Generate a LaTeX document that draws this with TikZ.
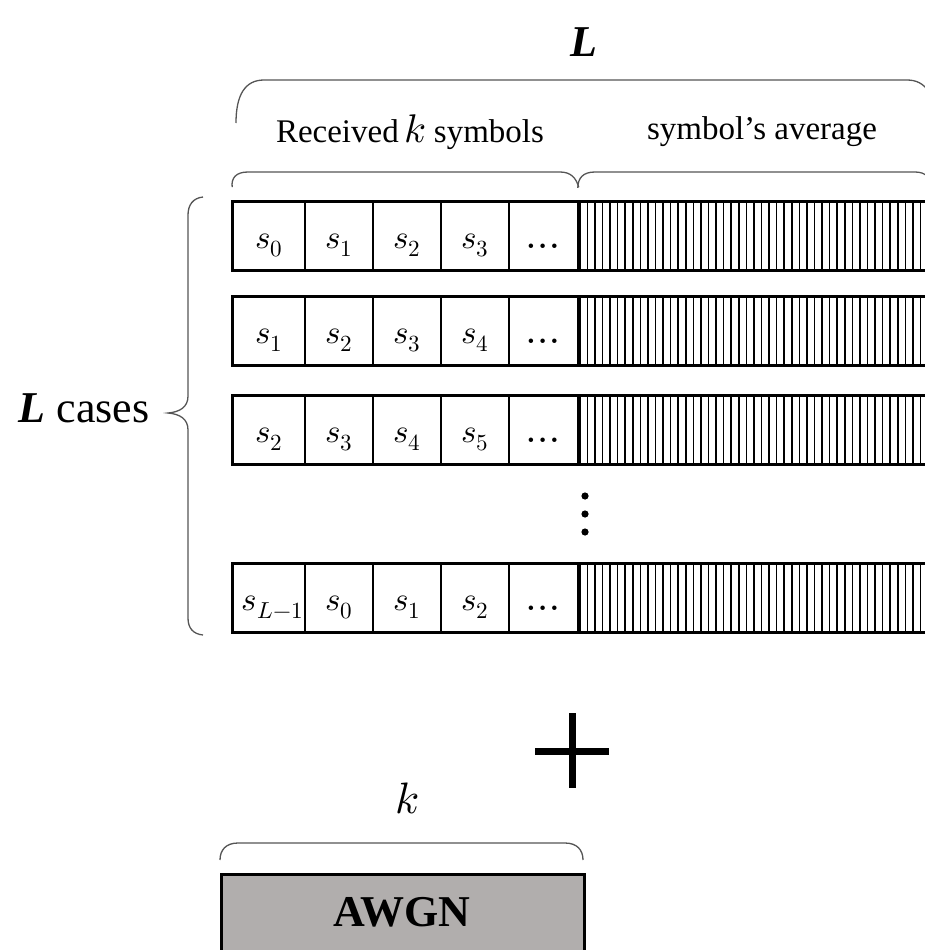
\documentclass[tikz,border=0pt]{standalone}
\usepackage{fontspec}
\usepackage{unicode-math}
\setmainfont{Liberation Serif}
\setmathfont{Latin Modern Math}
\definecolor{awgngray}{RGB}{177,174,173}
\definecolor{bracegray}{RGB}{85,85,85}
\begin{document}
\begin{tikzpicture}[x=1pt,y=-1pt,
  cell/.style={draw, line width=1.6pt, minimum width=#1, minimum height=68pt, inner sep=0pt,
    text height=30pt, text depth=6pt, font=\fontsize{33}{33}\selectfont},
  hatchbox/.style={minimum width=352pt, minimum height=68pt, inner sep=0pt},
  rowframe/.style={line width=2.6pt},
  bracepath/.style={draw=bracegray, line width=1.3pt},
  hatchline/.style={line width=1.6pt},
  biglabel/.style={font=\fontsize{44}{44}\selectfont},
  midlabel/.style={font=\fontsize{33}{33}\selectfont}]
\clip (0,0) rectangle (925,950);
\useasboundingbox (0,0) rectangle (925,950);

% rows
\foreach \r/\yc/\a/\b/\c/\d in {1/236/s_0/s_1/s_2/s_3, 2/331.5/s_1/s_2/s_3/s_4, 3/430.5/s_2/s_3/s_4/s_5, 5/598/\kern7pt s_{L-1}/s_0/s_1/s_2}{
  \node[cell=72pt] (r\r c1) at (269,\yc) {$\a$};
  \node[cell=68pt] (r\r c2) at (339,\yc) {$\b$};
  \node[cell=68pt] (r\r c3) at (407,\yc) {$\c$};
  \node[cell=68pt] (r\r c4) at (475,\yc) {$\d$};
  \node[cell=69pt, font=\fontsize{42}{42}\selectfont] (r\r c5) at (543.5,\yc) {$\boldsymbol{\ldots}$};
  \node[hatchbox] (r\r h) at (754,\yc) {};
  \foreach \i in {0,...,45}{
    \draw[hatchline] ([xshift=2pt+\i*7.57pt]r\r h.north west) -- ([xshift=2pt+\i*7.57pt]r\r h.south west);
  }
  \draw[rowframe] (r\r c1.north west) rectangle (r\r h.south east);
}

% vertical dots
\foreach \yy in {496,514,532}{
  \fill (585,\yy) circle (3.6pt);
}

% top labels
\node[biglabel] (Ltop) at (584,42) {\textbf{\textit{L}}};
\node[midlabel] (recv) at (410,132) {Received\,{\fontsize{40}{40}\selectfont$k$} symbols};
\node[midlabel] (avg) at (762,132) {symbol’s average};

% big brace
\draw[bracepath] (236,123) .. controls (236,95) and (245,80) .. (264,80) -- (907,80)
  .. controls (926,80) and (935,95) .. (935,123);
% small braces
\draw[bracepath] ([yshift=14pt]r1c1.north west) .. controls (231,178) and (236,172) .. (248,172) -- (560,172)
  .. controls (571,172) and (576,178) .. ([yshift=14pt]r1c5.north east);
\draw[bracepath] ([yshift=14pt]r1h.north west) .. controls (578,178) and (583,172) .. (595,172) -- (915,172)
  .. controls (926,172) and (931,178) .. (931,188);

% left brace
\draw[bracepath] (203,197) .. controls (193,198) and (188,205) .. (188,215) -- (188,396)
  .. controls (188,407) and (180,412) .. (168,413)
  .. controls (180,414) and (188,419) .. (188,430) -- (188,618)
  .. controls (188,628) and (193,634) .. (203,635);
\node[biglabel] (cases) at (84,408) {\textbf{\textit{L}} cases};

% plus
\coordinate (plus) at (572,751);
\draw[line width=7pt] ([xshift=-37pt]plus) -- ([xshift=37pt]plus);
\draw[line width=7pt] ([yshift=38pt]plus) -- ([yshift=-37pt]plus);

% AWGN
\node[font=\fontsize{44}{44}\selectfont] (k) at (407,798) {$k$};
\draw[bracepath] (220,860) .. controls (220,850) and (226,843) .. (238,843) -- (565,843)
  .. controls (577,843) and (583,850) .. (583,860);
\node[draw, line width=2.6pt, fill=awgngray, minimum width=363pt, minimum height=86pt, inner sep=0pt,
  anchor=north west] (awgn) at (220,873) {};
\node[font=\fontsize{44}{44}\selectfont\bfseries] (awgntext) at (402,912) {AWGN};
\end{tikzpicture}
\end{document}
